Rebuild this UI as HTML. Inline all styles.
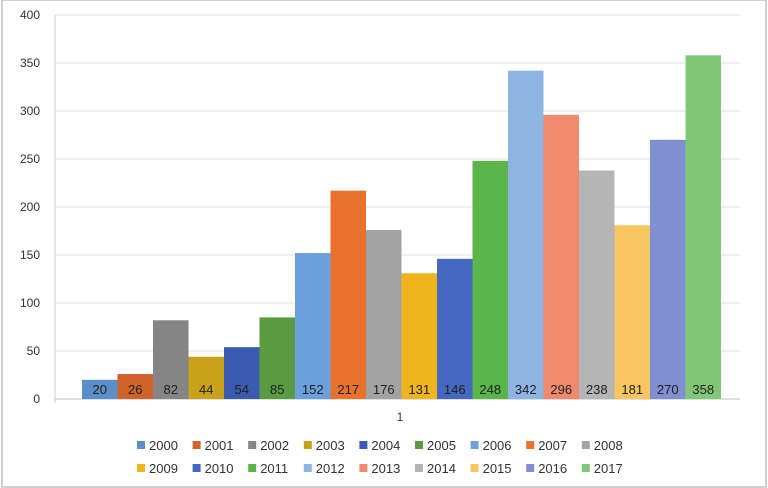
<!DOCTYPE html>
<html><head><meta charset="utf-8"><style>
body{margin:0;background:#fff;width:768px;height:488px;overflow:hidden;font-family:"Liberation Sans",sans-serif}
</style></head><body>
<svg id="c" width="768" height="488" style="position:absolute;left:0;top:0">
<rect x="2" y="0" width="764" height="487" fill="none" stroke="#d0d0d0" stroke-width="2"/>
</svg>
<script>
const years=["2000","2001","2002","2003","2004","2005","2006","2007","2008","2009","2010","2011","2012","2013","2014","2015","2016","2017"];
const values=[20,26,82,44,54,85,152,217,176,131,146,248,342,296,238,181,270,358];
const colors=["#5b8fc9","#d0622a","#858585","#c9a21a","#3a5bb0","#5a9a40","#6aa0dc","#e8712d","#a3a3a3","#f0b41c","#4468c0","#5ab54a","#8db4e2","#f08a6c","#b5b5b5","#f8c660","#7f8fd0","#80c878"];
const yTicks=[0,50,100,150,200,250,300,350,400];
const svg=document.getElementById('c');const NS="http://www.w3.org/2000/svg";
function y(v){return 399-v*0.96;}
function x(i){return 82+i*35.5;}
function mk(t,a,parent){const e=document.createElementNS(NS,t);for(const k in a)e.setAttribute(k,a[k]);(parent||svg).appendChild(e);return e;}
yTicks.forEach(t=>{
 const g=mk('line',{x1:55,x2:740,y1:y(t),y2:y(t),stroke:t===0?'#bfbfbf':'#e0e0e0','stroke-width':1});
 
 
 const l=mk('text',{x:40,y:y(t)+4,'text-anchor':'end','font-size':12,fill:'#333'});l.textContent=t;
 
 
});
const ax=mk('line',{x1:55,x2:55,y1:15,y2:403,stroke:'#cfcfcf'});


values.forEach((v,i)=>{
 const r=mk('rect',{x:x(i),y:y(v),width:35.5,height:v*0.96,fill:colors[i]});
 
 
 const t=mk('text',{x:x(i)+17.75,y:394,'text-anchor':'middle','font-size':13,fill:'#222'});t.textContent=v;
 
 
});
const xl=mk('text',{x:400,y:421,'text-anchor':'middle','font-size':12,fill:'#333'});xl.textContent='1';


years.forEach((yr,i)=>{
 const row=Math.floor(i/9),col=i%9;
 const lx=137+col*55.6,ly=445+row*23;
 const s=mk('rect',{x:lx,y:ly-4,width:8,height:8,fill:colors[i]});
 
 
 const t=mk('text',{x:lx+12,y:ly+5,'font-size':13,fill:'#333'});t.textContent=yr;
 
 
});
</script>
</body></html>
